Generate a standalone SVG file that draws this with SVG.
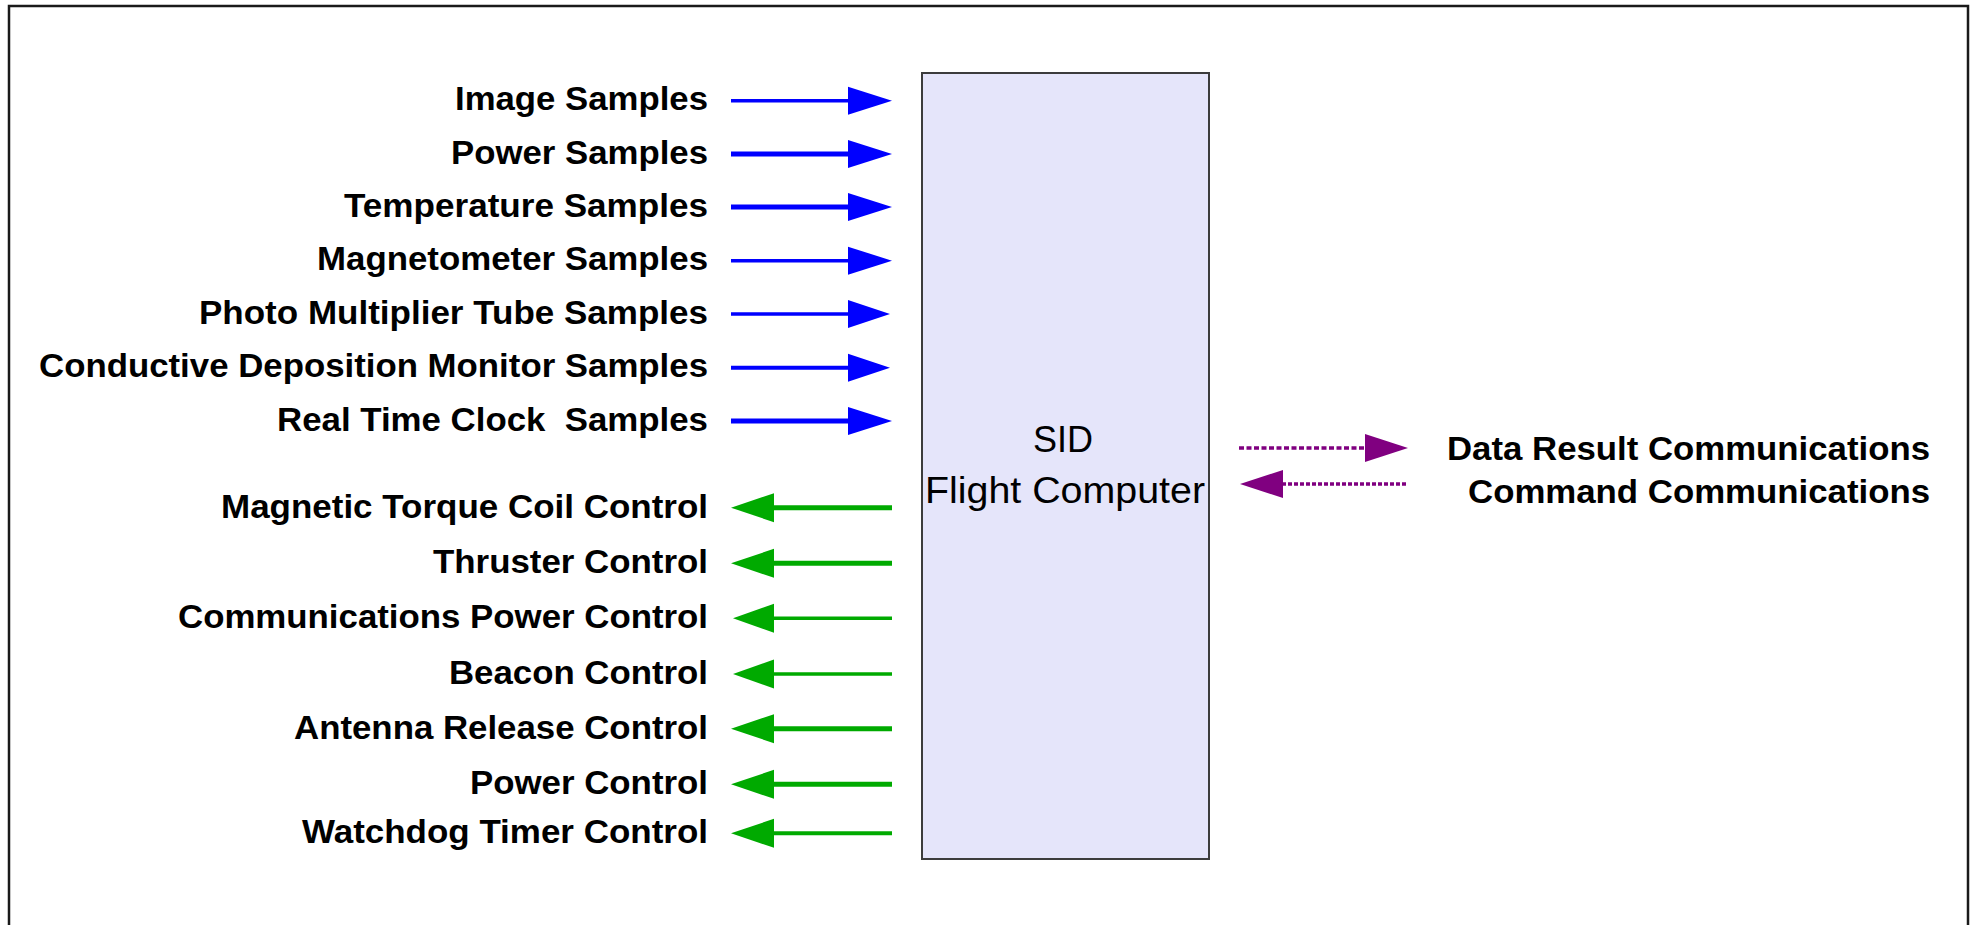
<svg xmlns="http://www.w3.org/2000/svg" width="1973" height="925" viewBox="0 0 1973 925">
  <style>
    .lbl { font-family: "Liberation Sans", Arial, Helvetica, sans-serif; font-weight: bold; font-size: 34px; fill: #000; text-anchor: end; }
    .box-text { font-family: "Liberation Sans", Arial, Helvetica, sans-serif; font-size: 36px; fill: #000; text-anchor: middle; }
    .in-line { stroke: #0000ff; fill: none; }
    .in-head { fill: #0000ff; }
    .out-line { stroke: #00aa00; fill: none; }
    .out-head { fill: #00aa00; }
    .comm-line { stroke: #800080; fill: none; stroke-width: 3.5; }
    .comm-head { fill: #800080; }
  </style>

  <!-- page frame -->
  <rect x="0" y="0" width="1973" height="925" fill="#ffffff"/>
  <rect x="9" y="6" width="1959" height="940" fill="none" stroke="#1a1a1a" stroke-width="2.5"/>

  <!-- central processing unit -->
  <g id="flight-computer">
    <rect x="922" y="73" width="287" height="786" fill="#e5e5fa" stroke="#3c3c3c" stroke-width="2"/>
    <text class="box-text" x="1063" y="452">SID</text>
    <text class="box-text" x="1065" y="503" textLength="280" lengthAdjust="spacingAndGlyphs">Flight Computer</text>
  </g>

  <!-- sensor inputs -->
  <g id="in-image"><text class="lbl" x="708" y="110" textLength="253" lengthAdjust="spacingAndGlyphs">Image Samples</text></g>
  <g id="in-power"><text class="lbl" x="708" y="164" textLength="257" lengthAdjust="spacingAndGlyphs">Power Samples</text></g>
  <g id="in-temperature"><text class="lbl" x="708" y="217" textLength="364" lengthAdjust="spacingAndGlyphs">Temperature Samples</text></g>
  <g id="in-magnetometer"><text class="lbl" x="708" y="270" textLength="391" lengthAdjust="spacingAndGlyphs">Magnetometer Samples</text></g>
  <g id="in-pmt"><text class="lbl" x="708" y="324" textLength="509" lengthAdjust="spacingAndGlyphs">Photo Multiplier Tube Samples</text></g>
  <g id="in-cdm"><text class="lbl" x="708" y="377" textLength="669" lengthAdjust="spacingAndGlyphs">Conductive Deposition Monitor Samples</text></g>
  <g id="in-rtc"><text class="lbl" x="708" y="431" textLength="431" lengthAdjust="spacingAndGlyphs" xml:space="preserve">Real Time Clock  Samples</text></g>

  <!-- control outputs -->
  <g id="out-mtc"><text class="lbl" x="708" y="518" textLength="487" lengthAdjust="spacingAndGlyphs">Magnetic Torque Coil Control</text></g>
  <g id="out-thruster"><text class="lbl" x="708" y="573" textLength="275" lengthAdjust="spacingAndGlyphs">Thruster Control</text></g>
  <g id="out-comm-power"><text class="lbl" x="708" y="628" textLength="530" lengthAdjust="spacingAndGlyphs">Communications Power Control</text></g>
  <g id="out-beacon"><text class="lbl" x="708" y="684" textLength="259" lengthAdjust="spacingAndGlyphs">Beacon Control</text></g>
  <g id="out-antenna"><text class="lbl" x="708" y="739" textLength="414" lengthAdjust="spacingAndGlyphs">Antenna Release Control</text></g>
  <g id="out-power"><text class="lbl" x="708" y="794" textLength="238" lengthAdjust="spacingAndGlyphs">Power Control</text></g>
  <g id="out-watchdog"><text class="lbl" x="708" y="843" textLength="406" lengthAdjust="spacingAndGlyphs">Watchdog Timer Control</text></g>

  <!-- communications link -->
  <g id="comm-data"><text class="lbl" x="1930" y="460" textLength="483" lengthAdjust="spacingAndGlyphs">Data Result Communications</text></g>
  <g id="comm-command"><text class="lbl" x="1930" y="503" textLength="462" lengthAdjust="spacingAndGlyphs">Command Communications</text></g>

  <g id="connectors">
    <!-- inputs into the flight computer -->
    <line class="in-line" x1="731" y1="100.7" x2="852" y2="100.7" stroke-width="3.5"/>
    <polygon class="in-head" points="848,86.7 892,100.7 848,114.7"/>
    <line class="in-line" x1="731" y1="154" x2="852" y2="154" stroke-width="5"/>
    <polygon class="in-head" points="848,140 892,154 848,168"/>
    <line class="in-line" x1="731" y1="207" x2="852" y2="207" stroke-width="5"/>
    <polygon class="in-head" points="848,193 892,207 848,221"/>
    <line class="in-line" x1="731" y1="260.7" x2="852" y2="260.7" stroke-width="3.5"/>
    <polygon class="in-head" points="848,246.7 892,260.7 848,274.7"/>
    <line class="in-line" x1="731" y1="314" x2="852" y2="314" stroke-width="3.5"/>
    <polygon class="in-head" points="848,300 890,314 848,328"/>
    <line class="in-line" x1="731" y1="367.7" x2="852" y2="367.7" stroke-width="4"/>
    <polygon class="in-head" points="848,353.7 890,367.7 848,381.7"/>
    <line class="in-line" x1="731" y1="421" x2="852" y2="421" stroke-width="5"/>
    <polygon class="in-head" points="848,407 892,421 848,435"/>

    <!-- outputs from the flight computer -->
    <line class="out-line" x1="770" y1="507.7" x2="892" y2="507.7" stroke-width="5"/>
    <polygon class="out-head" points="774,493.2 731,507.7 774,522.2"/>
    <line class="out-line" x1="770" y1="563.3" x2="892" y2="563.3" stroke-width="5"/>
    <polygon class="out-head" points="774,548.8 731,563.3 774,577.8"/>
    <line class="out-line" x1="770" y1="618.3" x2="892" y2="618.3" stroke-width="3.5"/>
    <polygon class="out-head" points="774,603.8 733,618.3 774,632.8"/>
    <line class="out-line" x1="770" y1="674" x2="892" y2="674" stroke-width="3.5"/>
    <polygon class="out-head" points="774,659.5 733,674 774,688.5"/>
    <line class="out-line" x1="770" y1="728.7" x2="892" y2="728.7" stroke-width="5"/>
    <polygon class="out-head" points="774,714.2 731,728.7 774,743.2"/>
    <line class="out-line" x1="770" y1="784.3" x2="892" y2="784.3" stroke-width="5"/>
    <polygon class="out-head" points="774,769.8 731,784.3 774,798.8"/>
    <line class="out-line" x1="770" y1="833.3" x2="892" y2="833.3" stroke-width="4"/>
    <polygon class="out-head" points="774,818.8 731,833.3 774,847.8"/>

    <!-- two-way communications -->
    <line class="comm-line" x1="1239" y1="448" x2="1366" y2="448" stroke-dasharray="5 2.5"/>
    <polygon class="comm-head" points="1365,434 1408,448 1365,462"/>
    <line class="comm-line" x1="1282" y1="484" x2="1408" y2="484" stroke-dasharray="4 2"/>
    <polygon class="comm-head" points="1283,470 1240,484 1283,498"/>
  </g>
</svg>
